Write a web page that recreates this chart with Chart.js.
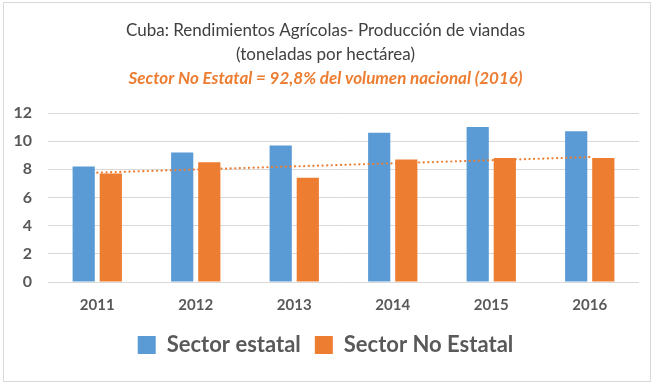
<!DOCTYPE html>
<html>
<head>
<meta charset="utf-8">
<script src="https://cdn.jsdelivr.net/npm/chart.js@4.4.1/dist/chart.umd.min.js"></script>
<style>
  body { margin: 0; background: #fff; }
  .frame {
    position: absolute; left: 3px; top: 2px;
    width: 646px; height: 378px;
    border: 1px solid #d9d9d9; background: #fff;
  }
</style>
</head>
<body>
<div class="frame"><canvas id="chart" width="646" height="378"></canvas></div>
<script>
// valores (t/ha)
const years = ['2011', '2012', '2013', '2014', '2015', '2016'];
const sectorEstatal = [8.2, 9.2, 9.7, 10.6, 11.0, 10.7];
const sectorNoEstatal = [7.7, 8.5, 7.4, 8.7, 8.8, 8.8];
const yTicks = [0, 2, 4, 6, 8, 10, 12];

// tendencia lineal (mínimos cuadrados) del sector no estatal, como la de Excel
const n = sectorNoEstatal.length;
const meanX = (n - 1) / 2;
const meanY = sectorNoEstatal.reduce((a, b) => a + b, 0) / n;
let num = 0, den = 0;
sectorNoEstatal.forEach((v, i) => {
  num += (i - meanX) * (v - meanY);
  den += (i - meanX) * (i - meanX);
});
const slope = num / den;
const trend = years.map((_, i) => meanY + slope * (i - meanX));

const gray = '#595959';
const font = 'Lato, "Open Sans", sans-serif';

new Chart(document.getElementById('chart').getContext('2d'), {
  type: 'bar',
  data: {
    labels: years,
    datasets: [
      {
        type: 'line',
        label: 'Tendencia',
        data: trend,
        borderColor: '#ED7D31',
        borderWidth: 2.2,
        borderDash: [0.1, 4.5],
        borderCapStyle: 'round',
        pointRadius: 0,
        fill: false,
        order: 0
      },
      {
        label: 'Sector estatal',
        data: sectorEstatal,
        backgroundColor: '#5B9BD5',
        categoryPercentage: 0.55,
        barPercentage: 0.82,
        order: 1
      },
      {
        label: 'Sector No Estatal',
        data: sectorNoEstatal,
        backgroundColor: '#ED7D31',
        categoryPercentage: 0.55,
        barPercentage: 0.82,
        order: 1
      }
    ]
  },
  options: {
    responsive: false,
    animation: false,
    layout: { padding: { left: 8, right: 11, top: 0, bottom: 15 } },
    plugins: {
      title: {
        display: true,
        text: ['Cuba: Rendimientos Agrícolas- Producción de viandas', '(toneladas por hectárea)'],
        color: '#404040',
        font: { family: font, size: 17, weight: 'normal', lineHeight: 1.4 },
        padding: { top: 16, bottom: 0 }
      },
      subtitle: {
        display: true,
        text: 'Sector No Estatal = 92,8% del volumen nacional (2016)',
        color: '#ED7D31',
        font: { family: font, size: 17, weight: 'bold', style: 'italic' },
        padding: { top: 2, bottom: 24 }
      },
      legend: {
        position: 'bottom',
        maxHeight: 50,
        labels: {
          color: gray,
          boxWidth: 18,
          boxHeight: 18,
          padding: 14,
          font: { family: font, size: 22, weight: 'bold' },
          filter: item => item.text !== 'Tendencia'
        }
      },
      tooltip: { enabled: false }
    },
    scales: {
      x: {
        grid: { display: false },
        border: { display: false },
        ticks: { color: gray, padding: 6, font: { family: font, size: 15, weight: 'bold' } }
      },
      y: {
        min: 0,
        max: 12,
        afterBuildTicks: axis => { axis.ticks = yTicks.map(v => ({ value: v })); },
        afterFit: axis => { axis.width = 36; },
        grid: { color: '#d9d9d9', drawTicks: false },
        border: { display: false },
        ticks: { color: gray, padding: 16, font: { family: font, size: 16, weight: 'bold' } }
      }
    }
  }
});
</script>
</body>
</html>
